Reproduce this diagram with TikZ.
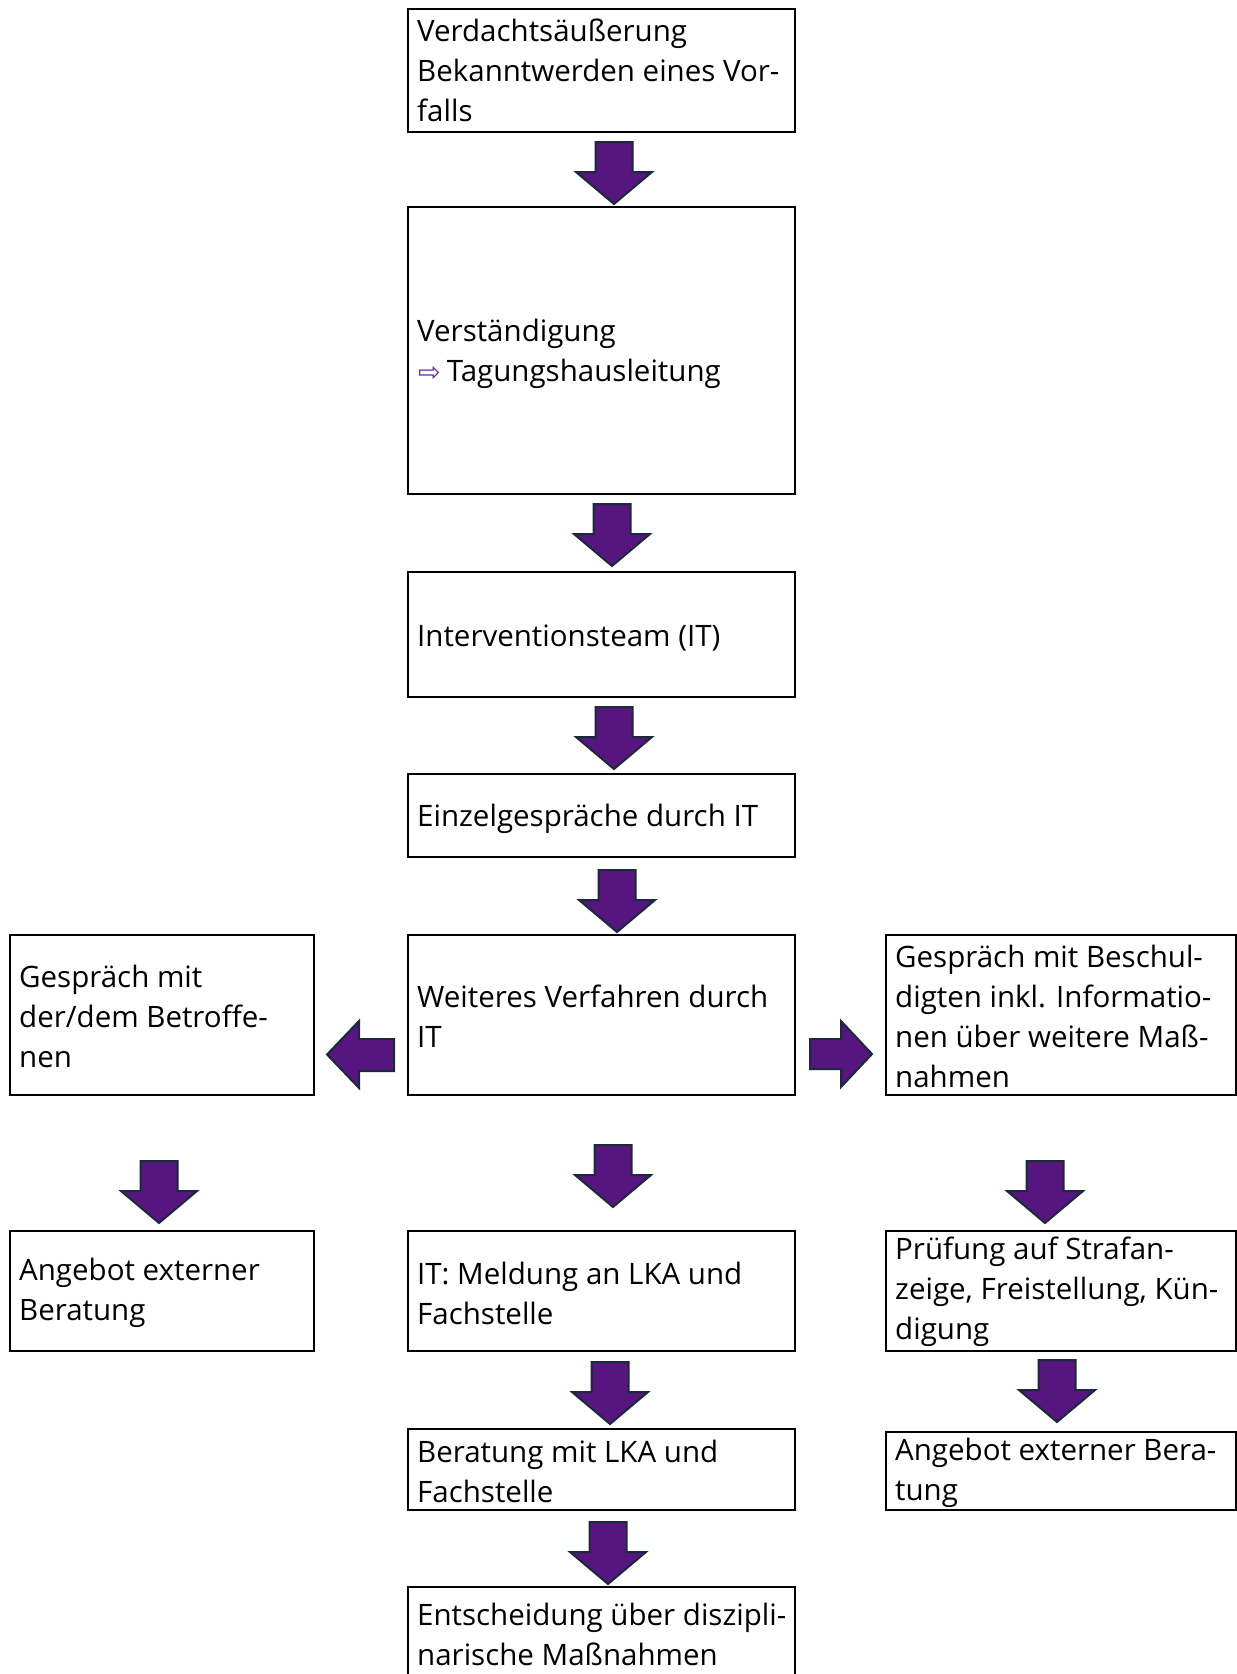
\documentclass[tikz,border=0pt]{standalone}
\usepackage{fontspec}
\setmainfont{Open Sans}
\newfontfamily\symfont{DejaVu Sans}
\definecolor{arrfill}{HTML}{56157F}
\definecolor{arrline}{HTML}{1B2A3A}
\definecolor{symcol}{HTML}{7030A0}
\begin{document}
\begin{tikzpicture}[x=1pt,y=-1pt,
  frame/.style={draw=black,line width=2pt,inner sep=0pt,anchor=center},
  colM/.style={frame,minimum width=387pt},
  colL/.style={frame,minimum width=304pt},
  colR/.style={frame,minimum width=350pt},
  txt/.style={align=left,inner sep=0pt,anchor=west,font=\fontsize{29.5}{40}\selectfont},
  blockarrow/.style={fill=arrfill,draw=arrline,line width=2pt,line join=miter},
  downarr/.pic={\draw[blockarrow] (-18.5,0) -- (18.5,0) -- (18.5,30) -- (38,30) -- (0,62) -- (-38,30) -- (-18.5,30) -- cycle;}
]
\useasboundingbox (0,0) rectangle (1237,1674);
\fill[white] (0,0) rectangle (1237,1674);

% boxes
\node[colM,minimum height=123pt] (b1) at (601.5,70) {};
\node[txt] (t1) at ([shift={(10,0)}]b1.west) {Verdachtsäußerung\\Bekanntwerden eines Vor-\\falls};

\node[colM,minimum height=287pt] (b2) at (601.5,350.5) {};
\node[txt] (t2) at ([shift={(10,3)}]b2.west) {Verständigung\\\hspace{1pt}{\symfont\color{symcol}\fontsize{27}{40}\selectfont ⇨}\hspace{6pt}Tagungshausleitung};

\node[colM,minimum height=125pt] (b3) at (601.5,634.5) {};
\node[txt] (t3) at ([shift={(10,3)}]b3.west) {Interventionsteam (IT)};

\node[colM,minimum height=83pt] (b4) at (601.5,815.5) {};
\node[txt] (t4) at ([shift={(10,3)}]b4.west) {Einzelgespräche durch IT};

\node[colM,minimum height=160pt] (b5) at (601.5,1015) {};
\node[txt] (t5) at ([shift={(10,1)}]b5.west) {Weiteres Verfahren durch\\IT};

\node[colL,minimum height=160pt] (l1) at (162,1015) {};
\node[txt] (tl1) at ([shift={(10,1)}]l1.west) {Gespräch mit\\der/dem Betroffe-\\nen};

\node[colR,minimum height=160pt] (r1) at (1061,1015) {};
\node[txt] (tr1) at ([shift={(10,1)}]r1.west) {Gespräch mit Beschul-\\digten inkl. Informatio-\\nen über weitere Maß-\\nahmen};

\node[colL,minimum height=120pt] (l2) at (162,1291) {};
\node[txt] (tl2) at ([shift={(10,2)}]l2.west) {Angebot externer\\Beratung};

\node[colM,minimum height=120pt] (m2) at (601.5,1291) {};
\node[txt] (tm2) at ([shift={(10,2)}]m2.west) {IT: Meldung an LKA und\\Fachstelle};

\node[colR,minimum height=120pt] (r2) at (1061,1291) {};
\node[txt] (tr2) at ([shift={(10,1)}]r2.west) {Prüfung auf Strafan-\\zeige, Freistellung, Kün-\\digung};

\node[colM,minimum height=81pt] (m3) at (601.5,1469.5) {};
\node[txt] (tm3) at ([shift={(10,2)}]m3.west) {Beratung mit LKA und\\Fachstelle};

\node[colR,minimum height=78pt] (r3) at (1061,1471) {};
\node[txt] (tr3) at ([shift={(10,2)}]r3.west) {Angebot externer Bera-\\tung};

\node[colM,minimum height=92pt] (m4) at (601.5,1633) {};
\node[txt] (tm4) at ([shift={(10,1)}]m4.west) {Entscheidung über diszipli-\\narische Maßnahmen};

% block arrows
\pic at (614,142) {downarr};
\pic at (612,504) {downarr};
\pic at (614,707) {downarr};
\pic at (617,870) {downarr};
\pic at (159,1161) {downarr};
\pic at (613,1145) {downarr};
\pic at (1045,1161) {downarr};
\pic at (610,1362) {downarr};
\pic at (1057,1360) {downarr};
\pic at (608,1522) {downarr};

\draw[blockarrow] (394,1039) -- (394,1071) -- (359,1071) -- (359,1088) -- (327,1054.5) -- (359,1021) -- (359,1039) -- cycle;
\draw[blockarrow] (810,1039) -- (810,1069) -- (841,1069) -- (841,1087) -- (872,1054) -- (841,1021) -- (841,1039) -- cycle;
\end{tikzpicture}
\end{document}
